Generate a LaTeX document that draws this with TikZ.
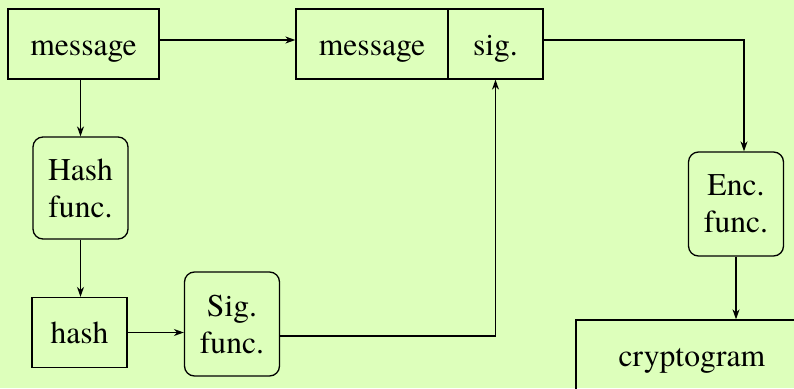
\documentclass[tikz,border=0pt]{standalone}
\usepackage{fontspec}
\newfontfamily\boxfont{texgyretermes-regular.otf}
\usepackage{xcolor}
\usetikzlibrary{arrows.meta}
\definecolor{page green}{RGB}{221,255,187}
\colorlet{box edge}{black}
\def\picframe{(0,0) rectangle (794,388)}
\tikzset{plain/.style={draw=box edge, line width=1.3pt, inner sep=0pt, align=center,
        text depth=0pt, font=\boxfont\fontsize{31.6}{37}\selectfont},
    field/.style={plain, text height=22pt, minimum height=70pt},
    func/.style={plain, rounded corners=10pt, minimum width=95pt, minimum height=104pt},
    flow/.style={draw=box edge, line width=1.3pt, -{Stealth[length=10pt,width=7pt]}}}

\begin{document}
\begin{tikzpicture}[x=1pt, y=-1pt]
    \useasboundingbox \picframe;
    \clip \picframe;
    \fill[page green] \picframe;
    % top row
    \node[field, minimum width=151pt] (msg) at (83.5,44) {message};
    \node[field, minimum width=152pt] (msgpart) at (372,44) {message};
    \node[field, minimum width=95pt] (sigpart) at (495.5,44) {sig.};
    % left column
    \node[func, minimum height=102pt] (hashfn) at (80.5,188) {Hash\\func.};
    \node[field, minimum width=95pt] (hash) at (79.5,332.5) {hash};
    \node[func] (sigfn) at (232,324) {Sig.\\func.};
    % right column
    \node[func] (encfn) at (736,204) {Enc.\\func.};
    \node[field, minimum width=232pt] (crypt) at (692,355) {cryptogram};
    % connectors
    \draw[flow] ([yshift=4pt]msg.east) -- ([yshift=4pt]msgpart.west);
    \draw[flow] ([xshift=-3pt]msg.south) -- ([xshift=-3pt]msg.south |- hashfn.north);
    \draw[flow] (hashfn.south) -- (hashfn.south |- hash.north);
    \draw[flow] (hash.east) -- (hash.east -| sigfn.west);
    \draw[flow] ([yshift=-12pt]sigfn.east) -| (sigpart.south);
    \draw[flow] ([yshift=4pt]sigpart.east) -| ([xshift=8pt]encfn.north);
    \draw[flow] (encfn.south) -- (encfn.south |- crypt.north);
\end{tikzpicture}
\end{document}
